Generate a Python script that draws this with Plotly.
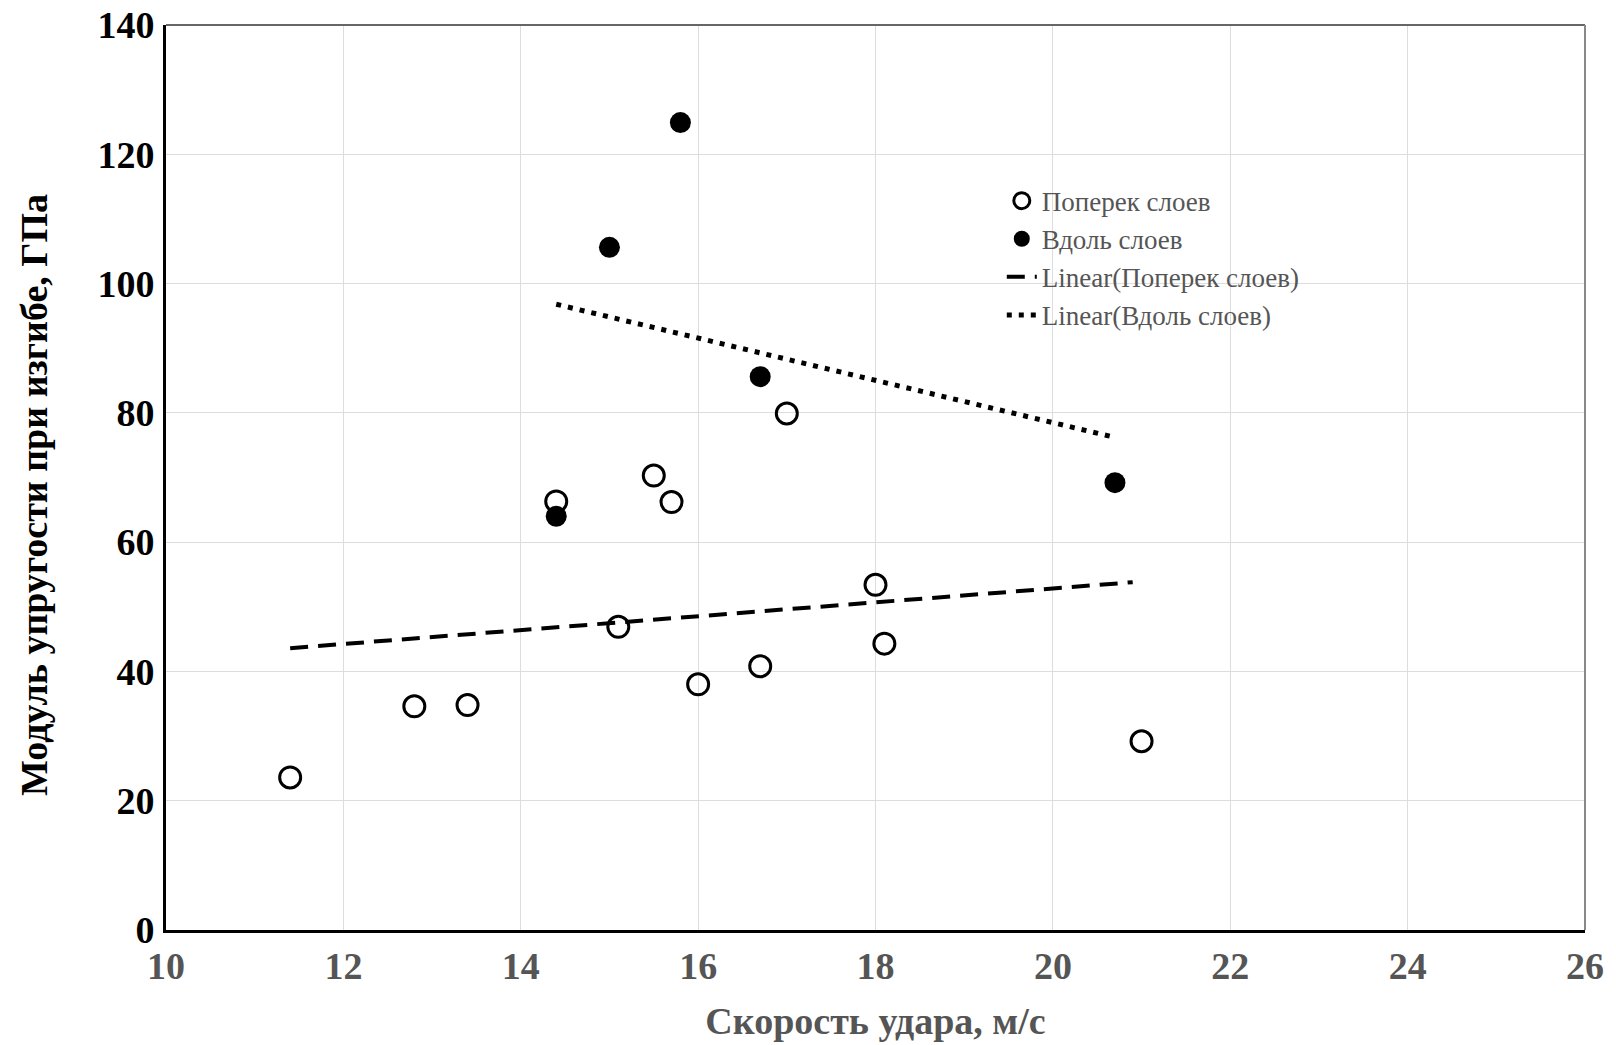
import plotly.graph_objects as go

# Поперек слоев (open circles)
across_x = [11.4, 12.8, 13.4, 14.4, 15.1, 15.5, 15.7, 16.0, 16.7, 17.0, 18.0, 18.1, 21.0]
across_y = [23.6, 34.6, 34.8, 66.3, 46.9, 70.3, 66.2, 38.0, 40.8, 79.9, 53.4, 44.3, 29.2]

# Вдоль слоев (filled circles)
along_x = [14.4, 15.0, 15.8, 16.7, 20.7]
along_y = [64.0, 105.6, 124.9, 85.6, 69.2]

# Linear trend lines (endpoints)
trend_across_x = [11.4, 20.9]
trend_across_y = [43.6, 53.8]
trend_along_x = [14.4, 20.7]
trend_along_y = [96.8, 76.2]

x_ticks = [10, 12, 14, 16, 18, 20, 22, 24, 26]
y_ticks = [0, 20, 40, 60, 80, 100, 120, 140]

SERIF = "Liberation Serif, Times New Roman, serif"
LEG_FONT = 27

fig = go.Figure()
fig.add_trace(go.Scatter(
    x=across_x, y=across_y, mode="markers", name="Поперек слоев",
    marker=dict(symbol="circle-open", size=21, color="black", line=dict(width=3, color="black")),
))
fig.add_trace(go.Scatter(
    x=along_x, y=along_y, mode="markers", name="Вдоль слоев",
    marker=dict(symbol="circle", size=21, color="black"),
))
fig.add_trace(go.Scatter(
    x=trend_across_x, y=trend_across_y, mode="lines", name="Linear(Поперек слоев)",
    line=dict(color="black", width=4, dash="18px,10px"),
))
fig.add_trace(go.Scatter(
    x=trend_along_x, y=trend_along_y, mode="lines", name="Linear(Вдоль слоев)",
    line=dict(color="black", width=5, dash="5px,7px"),
))

fig.update_layout(
    width=1616, height=1045,
    margin=dict(l=166, r=31, t=25, b=115),
    paper_bgcolor="white", plot_bgcolor="white",
    font=dict(family=SERIF, color="black"),
    showlegend=True,
    legend=dict(
        x=0.589, y=0.8325, xanchor="left", yanchor="top",
        bgcolor="rgba(0,0,0,0)",
        font=dict(family=SERIF, size=LEG_FONT, color="#555555"),
        itemwidth=30, tracegroupgap=0,
    ),
    xaxis=dict(
        range=[10, 26], tickvals=x_ticks, ticktext=[str(v) for v in x_ticks],
        showgrid=True, gridcolor="#dddddd", gridwidth=1,
        showline=True, linecolor="black", linewidth=3,
        zeroline=False, ticks="", automargin=False, ticklabelstandoff=0,
        tickfont=dict(family=SERIF, size=38, color="#555555", weight="bold"),
        title=dict(text="<b>Скорость удара, м/с</b>", font=dict(family=SERIF, size=38, color="#555555"), standoff=22),
    ),
    yaxis=dict(
        range=[0, 140], tickvals=y_ticks, ticktext=[str(v) for v in y_ticks],
        showgrid=True, gridcolor="#dddddd", gridwidth=1,
        showline=True, linecolor="black", linewidth=3,
        zeroline=False, ticks="", automargin=False, ticklabelstandoff=1,
        tickfont=dict(family=SERIF, size=38, color="black", weight="bold"),
    ),
    shapes=[
        dict(type="line", xref="paper", yref="paper", x0=0, x1=1, y0=1, y1=1, line=dict(color="#666666", width=2)),
        dict(type="line", xref="paper", yref="paper", x0=1, x1=1, y0=0, y1=1, line=dict(color="#888888", width=2)),
    ],
    annotations=[
        dict(text="<b>Модуль упругости при изгибе, ГПа</b>", xref="paper", yref="paper",
             x=-0.093, y=0.4807, xanchor="center", yanchor="middle", textangle=-90,
             showarrow=False, font=dict(family=SERIF, size=38, color="black")),
    ],
)

fig.write_html("out.html")
